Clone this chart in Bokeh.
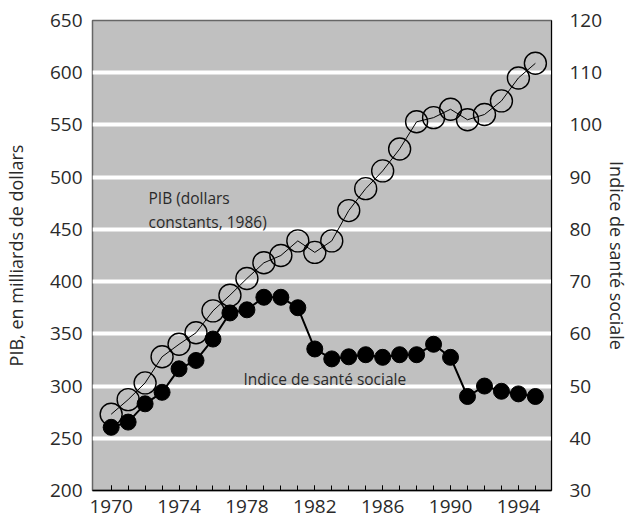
from bokeh.plotting import figure
from bokeh.models import Range1d, LinearAxis, FixedTicker, Label
from bokeh.embed import file_html
from bokeh.resources import INLINE

years = list(range(1970, 1996))
pib = [273, 287, 303, 328, 340, 351, 372, 387, 403, 418, 425, 439, 428,
       439, 468, 489, 506, 527, 553, 557, 565, 555, 560, 573, 595, 609]
indice = [42.1, 43.1, 46.6, 48.8, 53.3, 54.9, 59.0, 64.0, 64.6, 67.0, 67.0,
          65.0, 57.1, 55.2, 55.6, 56.0, 55.5, 56.0, 56.0, 58.0, 55.5, 48.0,
          50.0, 49.0, 48.5, 48.0]
x_ticks = [1970, 1974, 1978, 1982, 1986, 1990, 1994]
left_ticks = list(range(200, 651, 50))
right_ticks = list(range(30, 121, 10))
grid_ticks = list(range(250, 601, 50))

FONT = "Open Sans"
TXT = "#2a2a2a"

p = figure(width=634, height=523,
           x_range=Range1d(1968.9, 1995.95), y_range=Range1d(200, 650),
           output_backend="svg", toolbar_location=None,
           min_border_left=92, min_border_right=83, min_border_top=20,
           min_border_bottom=33,
           background_fill_color="#c0c0c0", border_fill_color="white",
           outline_line_color="#666666", outline_line_width=1.5)
p.extra_y_ranges = {"idx": Range1d(30, 120)}

p.xgrid.visible = False
p.ygrid.ticker = FixedTicker(ticks=grid_ticks)
p.ygrid.grid_line_color = "white"
p.ygrid.grid_line_width = 4

# x axis
xa = p.xaxis[0]
xa.ticker = FixedTicker(ticks=x_ticks, minor_ticks=years)
xa.major_tick_in = 5
xa.major_tick_out = 0
xa.minor_tick_in = 5
xa.minor_tick_out = 0
xa.major_tick_line_color = "black"
xa.minor_tick_line_color = "black"
xa.axis_line_color = "black"
xa.axis_line_width = 1.5
xa.major_label_standoff = 9
xa.major_label_text_font = FONT
xa.major_label_text_font_size = "19px"
xa.major_label_text_color = TXT

# left axis
ya = p.yaxis[0]
ya.ticker = FixedTicker(ticks=left_ticks)
ya.major_tick_line_color = None
ya.minor_tick_line_color = None
ya.axis_line_color = None
ya.major_label_standoff = 4
ya.major_label_text_font = FONT
ya.major_label_text_font_size = "19px"
ya.major_label_text_color = TXT
ya.axis_label = "PIB, en milliards de dollars"
ya.axis_label_text_font = FONT
ya.axis_label_text_font_size = "18px"
ya.axis_label_text_font_style = "normal"
ya.axis_label_text_color = TXT
ya.axis_label_standoff = 19

# right axis
ra = LinearAxis(y_range_name="idx", ticker=FixedTicker(ticks=right_ticks))
ra.major_tick_line_color = None
ra.minor_tick_line_color = None
ra.axis_line_color = "black"
ra.major_label_standoff = 12
ra.major_label_text_font = FONT
ra.major_label_text_font_size = "19px"
ra.major_label_text_color = TXT
ra.axis_label = "Indice de santé sociale"
ra.axis_label_text_font = FONT
ra.axis_label_text_font_size = "18px"
ra.axis_label_text_font_style = "normal"
ra.axis_label_text_color = TXT
ra.axis_label_standoff = 0
p.add_layout(ra, "right")

# PIB series (open circles)
p.line(years, pib, line_color="black", line_width=1)
p.scatter(years, pib, size=22, marker="circle", fill_color=None,
          line_color="black", line_width=1.4)

# Indice series (filled circles)
p.line(years, indice, y_range_name="idx", line_color="black", line_width=2)
p.scatter(years, indice, y_range_name="idx", size=16, marker="circle",
          fill_color="black", line_color="black")

# annotations
lab_pib_x = 1972.2
lab_pib_y1 = 480.5
lab_pib_y2 = 456.6
lab_idx_x = 1977.8
lab_idx_y = 307.2
for t, yy in [("PIB (dollars", lab_pib_y1), ("constants, 1986)", lab_pib_y2)]:
    p.add_layout(Label(x=lab_pib_x, y=yy, text=t, text_font=FONT,
                       text_font_size="15.5px", text_color=TXT,
                       text_baseline="middle"))
p.add_layout(Label(x=lab_idx_x, y=lab_idx_y, text="Indice de santé sociale",
                   text_font=FONT, text_font_size="15.5px", text_color=TXT,
                   text_baseline="middle"))

open("out.html", "w").write(file_html(p, INLINE))
